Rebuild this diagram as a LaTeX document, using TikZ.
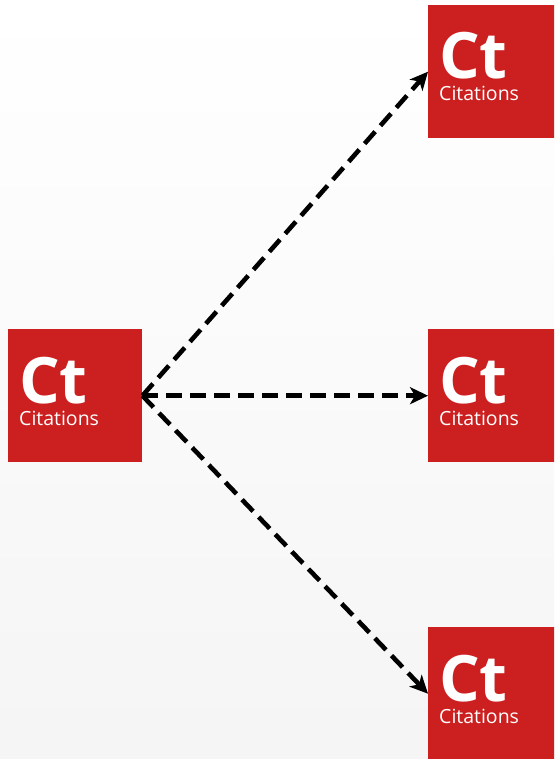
\documentclass[tikz,border=0pt]{standalone}
\usepackage{fontspec}
\setmainfont{Open Sans}
\usetikzlibrary{arrows.meta}
\definecolor{citered}{RGB}{204,31,31}
\tikzset{
	citebox/.style={fill=citered,draw=none,anchor=north west,
		minimum width=134pt,minimum height=133pt,inner sep=0pt},
	bigtxt/.style={anchor=base west,inner sep=0pt,text=white,text depth=0pt,
		font=\fontsize{64}{64}\selectfont\bfseries},
	smalltxt/.style={anchor=base west,inner sep=0pt,text=white,
		font=\fontsize{19.5}{19.5}\selectfont},
	cite/.style={draw=black,line width=4.6pt,dash pattern=on 16pt off 8pt,
		-{Stealth[length=18pt,width=17pt,inset=5pt]}}
}
\begin{document}
\begin{tikzpicture}[x=1pt,y=-1pt]
	\useasboundingbox (0,0) rectangle (554,759);
	\clip (0,0) rectangle (554,759);
	% background
	\shade[shading angle=30,top color=white,bottom color=black!4]
	(0,0) rectangle (554,759);
	% the four citation boxes
	\foreach \n/\x/\y in {src/8/329,top/428/5,mid/428/329,bot/428/627}{
		\node[citebox] (\n) at (\x,\y) {};
		\node[bigtxt] (\n ct) at (\x+11,\y+74) {Ct};
		\node[smalltxt] (\n txt) at (\x+11,\y+96) {Citations};
	}
	\draw[cite] (src.east)--(top.west);
	\draw[cite] (src.east)--(mid.west);
	\draw[cite] (src.east)--(bot.west);
\end{tikzpicture}
\end{document}
